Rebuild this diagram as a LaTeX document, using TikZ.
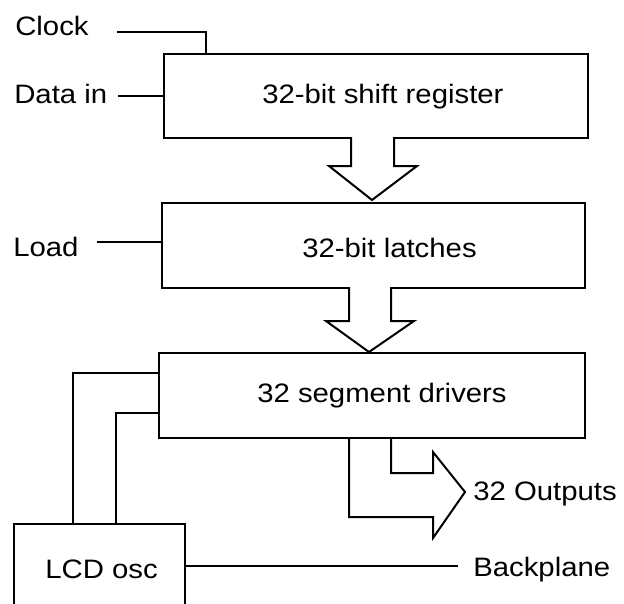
\documentclass[tikz,border=0pt]{standalone}
\usepackage{fontspec}
\setmainfont{Liberation Sans}[FakeStretch=1.1]
\begin{document}
\begin{tikzpicture}[x=0.75pt,y=-0.75pt,
  blk/.style={draw,line width=1.6pt,rectangle,inner sep=0pt,anchor=north west},
  wire/.style={line width=1.3pt},
  barrow/.style={line width=1.5pt,line join=miter,fill=white},
  txt/.style={inner sep=0pt,anchor=base west,font=\fontsize{20}{24}\selectfont}]
\useasboundingbox (0,0) rectangle (624,603);
\clip (0,0) rectangle (624,603);
\fill[white] (0,0) rectangle (624,603);

% boxes
\node[blk,minimum width=424*0.75pt,minimum height=84*0.75pt] (box1) at (163,53) {};
\node[blk,minimum width=423*0.75pt,minimum height=85*0.75pt] (box2) at (161,202) {};
\node[blk,minimum width=426*0.75pt,minimum height=85*0.75pt] (box3) at (158,352) {};
\node[blk,minimum width=171*0.75pt,minimum height=120*0.75pt] (lcd) at (13,523) {};

% box texts
\node[txt] (t1) at (262,103) {32-bit shift register};
\node[txt] (t2) at (302,257) {32-bit latches};
\node[txt] (t3) at (257,402) {32 segment drivers};
\node[txt] (t4) at (45,578) {LCD osc};

% labels
\node[txt] (clock) at (15,35) {Clock};
\node[txt] (datain) at (14,103) {Data in};
\node[txt] (load) at (13,256) {Load};
\node[txt] (outs) at (473,500) {32 Outputs};
\node[txt] (bp) at (473,576) {Backplane};

% connector end points
\coordinate (clkA) at (117,32);
\coordinate (clkB) at (206,53);
\coordinate (dinA) at (118,96);
\coordinate (ldA) at (97,242);
\coordinate (osc1) at (73,523);
\coordinate (osc2) at (116,523);
\coordinate (in1) at (158,373);
\coordinate (in2) at (158,413);
\coordinate (bpA) at (184,566);
\coordinate (bpB) at (458,566);

% connectors
\draw[wire] (clkA) -| (clkB);
\draw[wire] (dinA) -- (dinA -| box1.west);
\draw[wire] (ldA) -- (ldA -| box2.west);
\draw[wire] (osc1) |- (in1);
\draw[wire] (osc2) |- (in2);
\draw[wire] (bpA) -- (bpB);

% block arrows
\draw[barrow] (351,137) -- (351,166) -- (329,166) -- (372,200) -- (417,166) -- (394,166) -- (394,137);
\draw[barrow] (349,287) -- (349,321) -- (326,321) -- (369,352) -- (414,321) -- (391,321) -- (391,287);
\draw[barrow,fill=none] (349,437) -- (349,517) -- (433,517) -- (433,538) -- (465,492) -- (433,452) -- (433,473) -- (391,473) -- (391,437);
\end{tikzpicture}
\end{document}
